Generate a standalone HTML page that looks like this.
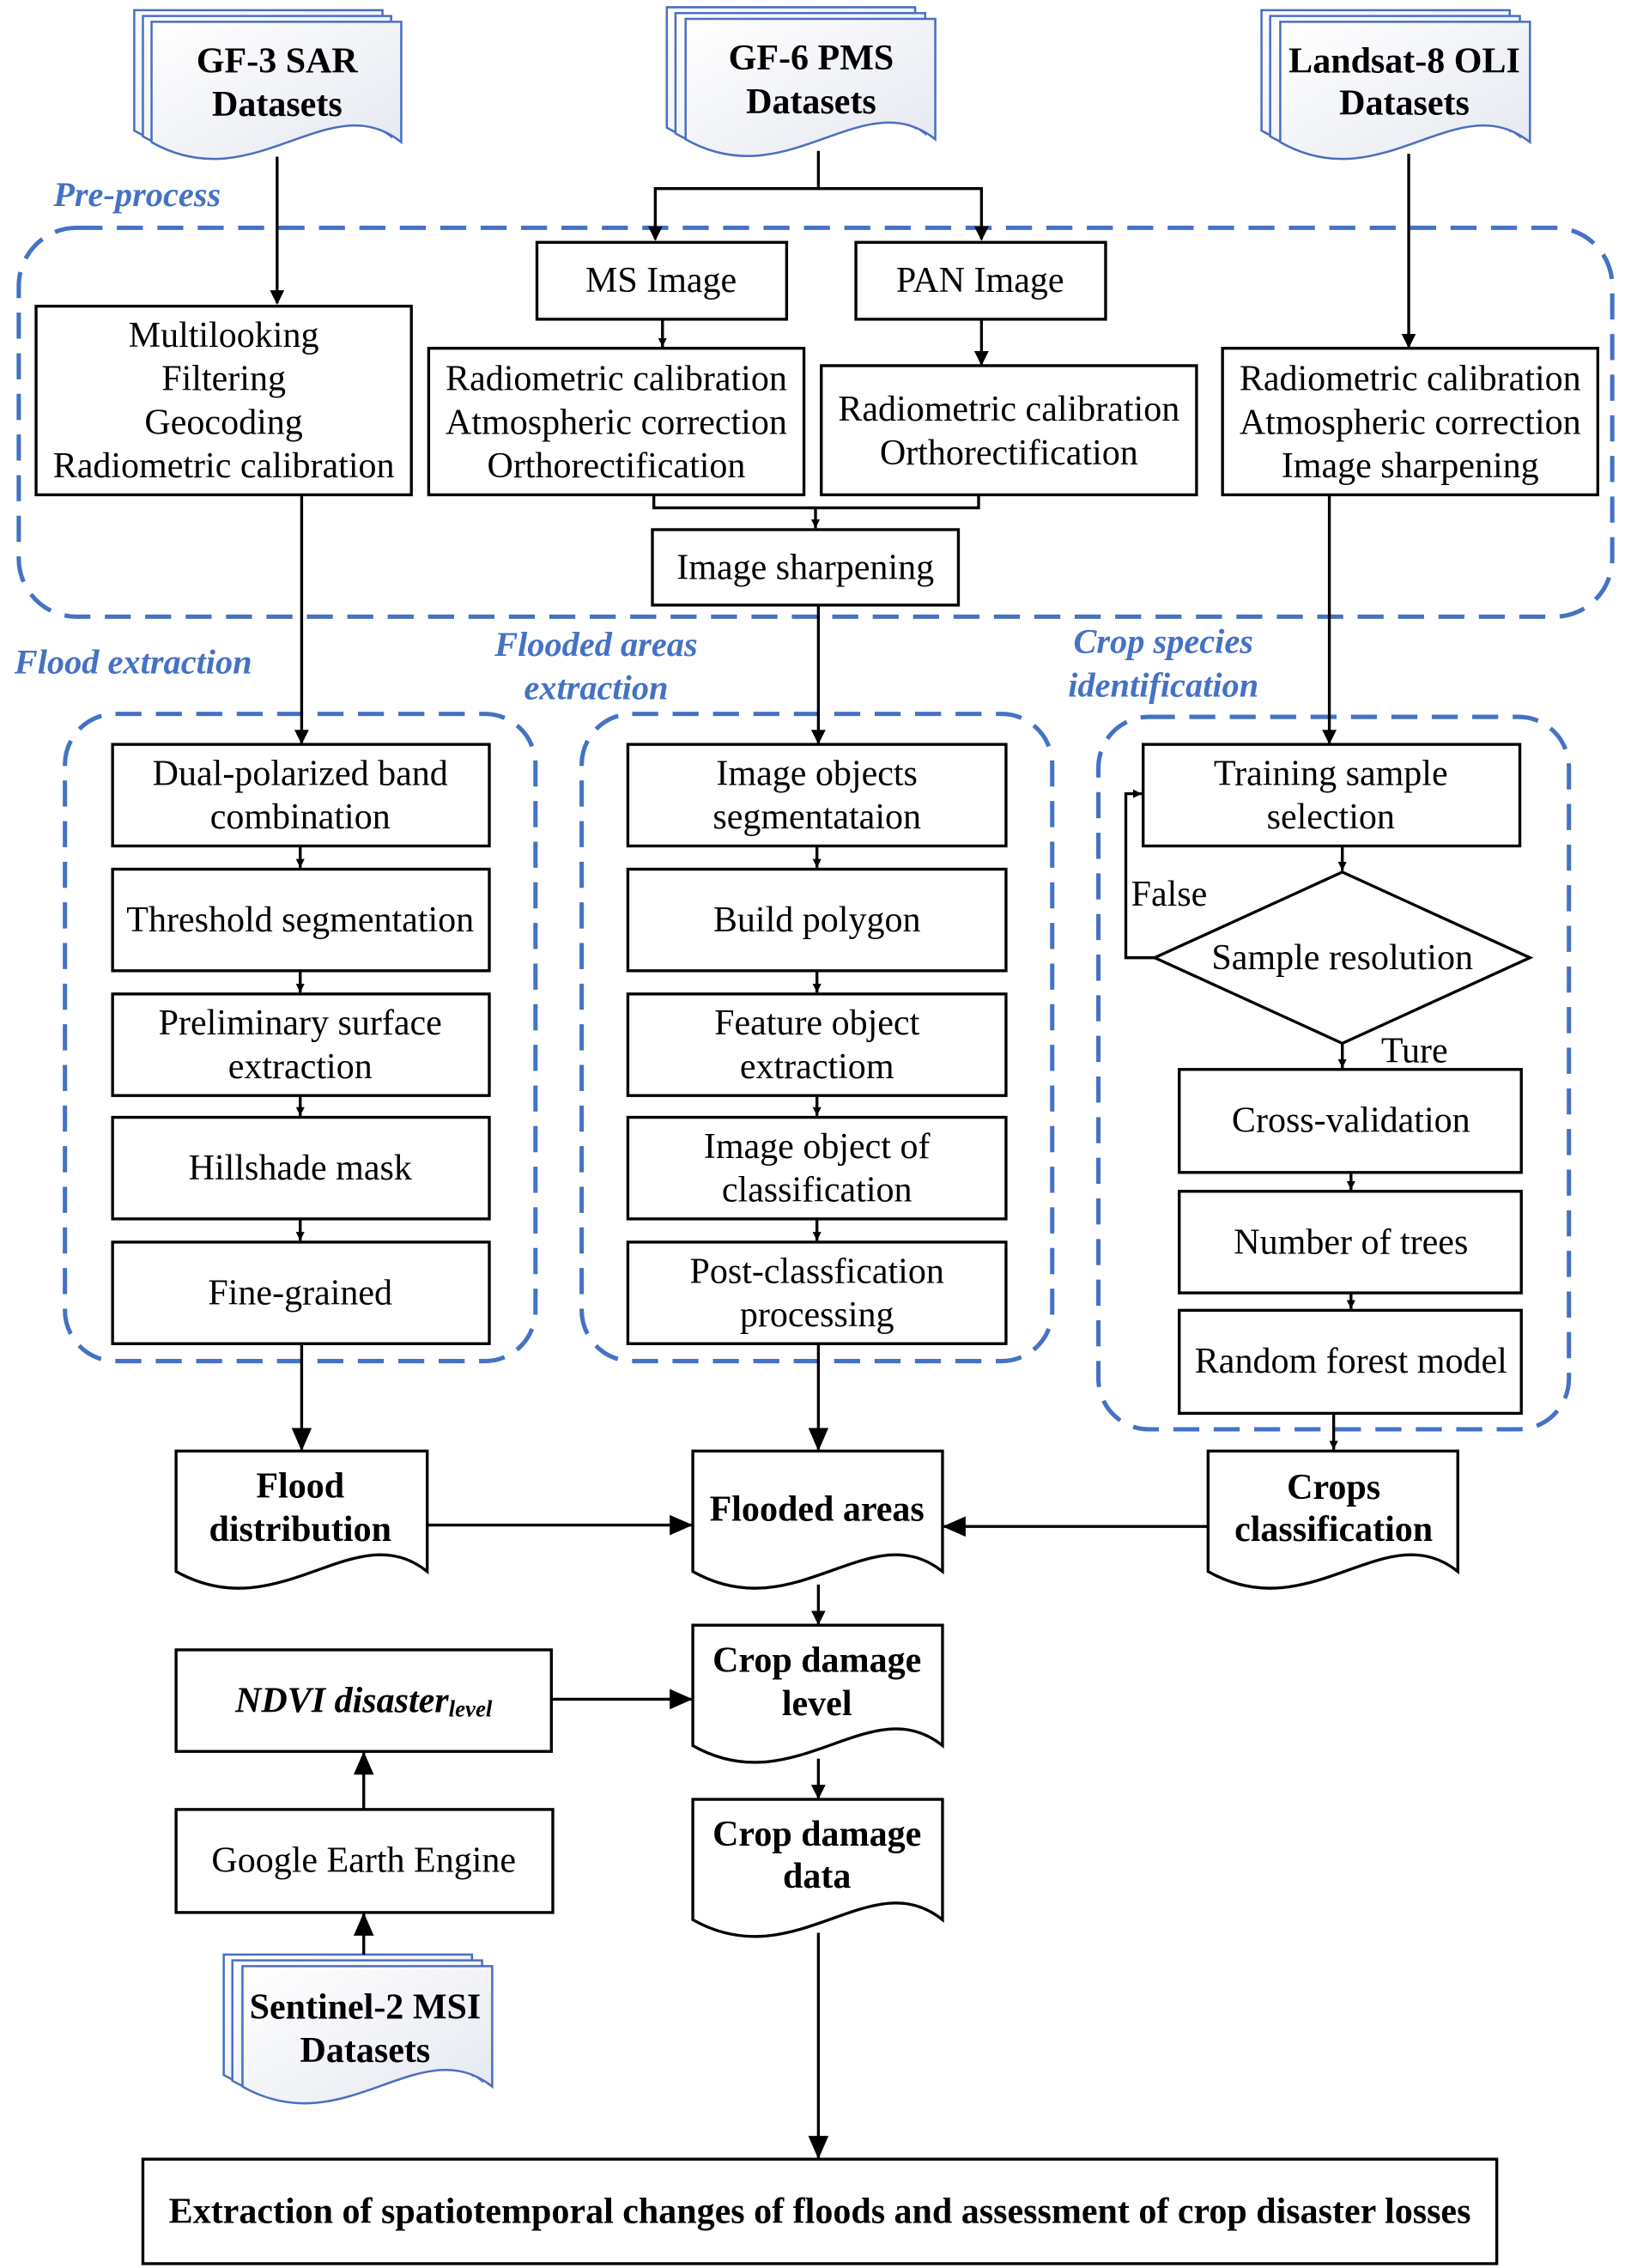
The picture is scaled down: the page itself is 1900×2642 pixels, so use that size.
<!DOCTYPE html>
<html><head><meta charset="utf-8"><style>html,body{margin:0;padding:0;background:#fff}svg{display:block}svg text{font-family:"Liberation Serif","Times New Roman",serif}</style></head>
<body>
<svg xmlns="http://www.w3.org/2000/svg" width="1900" height="2642" viewBox="0 0 1130 1563" preserveAspectRatio="none" style="font-family:'Liberation Serif',serif">
<defs>
<marker id="a" markerWidth="10" markerHeight="10" refX="9" refY="5" orient="auto" markerUnits="userSpaceOnUse"><path d="M0,0 L10,5 L0,10 z" fill="#000"/></marker>
<marker id="s" markerWidth="6" markerHeight="6" refX="6" refY="3" orient="auto" markerUnits="userSpaceOnUse"><path d="M0,0 L6,3 L0,6 z" fill="#000"/></marker>
<marker id="b" markerWidth="16" markerHeight="14" refX="15" refY="7" orient="auto" markerUnits="userSpaceOnUse"><path d="M0,0 L16,7 L0,14 z" fill="#000"/></marker>
<linearGradient id="g" x1="0" y1="0" x2="1" y2="1"><stop offset="0" stop-color="#fff"/><stop offset="1" stop-color="#e4e8f0"/></linearGradient>
</defs>

<g fill="url(#g)" stroke="#4a6fc0" stroke-width="1.5">
<path d="M93,7 H265 V90 C215,50 163,130 93,90 Z"/>
<path d="M99,11 H271 V94 C221,54 169,134 99,94 Z"/>
<path d="M105,15 H278 V98 C228,58 176,138 105,98 Z"/>
<path d="M462,5 H634 V88 C584,48 532,128 462,88 Z"/>
<path d="M468,9 H641 V92 C591,52 539,132 468,92 Z"/>
<path d="M475,13 H648 V96 C598,56 546,136 475,96 Z"/>
<path d="M874,7 H1046 V90 C996,50 944,130 874,90 Z"/>
<path d="M880,11 H1053 V94 C1003,54 951,134 880,94 Z"/>
<path d="M887,15 H1060 V98 C1010,58 958,138 887,98 Z"/>
<path d="M155,1347 H327 V1430 C277,1390 225,1470 155,1430 Z"/>
<path d="M161,1351 H334 V1434 C284,1394 232,1474 161,1434 Z"/>
<path d="M168,1355 H341 V1438 C291,1398 239,1478 168,1438 Z"/>
</g>
<g font-weight="bold" font-size="25" text-anchor="middle" fill="#000">
<text x="192" y="50">GF-3 SAR</text><text x="192" y="80">Datasets</text>
<text x="562" y="48">GF-6 PMS</text><text x="562" y="78">Datasets</text>
<text x="973" y="50">Landsat-8 OLI</text><text x="973" y="79">Datasets</text>
<text x="253" y="1391">Sentinel-2 MSI</text><text x="253" y="1421">Datasets</text>
</g>

<g fill="none" stroke="#4472C4" stroke-width="3" stroke-dasharray="18,10">
<rect x="13" y="157" width="1104" height="268" rx="40"/>
<rect x="45" y="492" width="326" height="446" rx="35"/>
<rect x="403" y="492" width="326" height="446" rx="35"/>
<rect x="761" y="494" width="326" height="491" rx="35"/>
</g>
<g fill="#4472C4" font-style="italic" font-weight="bold" font-size="24">
<text x="37" y="142">Pre-process</text>
<text x="10" y="464">Flood extraction</text>
<text x="413" y="452" text-anchor="middle">Flooded areas</text>
<text x="413" y="482" text-anchor="middle">extraction</text>
<text x="806" y="450" text-anchor="middle">Crop species</text>
<text x="806" y="480" text-anchor="middle">identification</text>
</g>

<g fill="#fff" stroke="#000" stroke-width="2">
<rect x="25" y="211" width="260" height="130"/>
<rect x="372" y="167" width="173" height="53"/>
<rect x="593" y="167" width="173" height="53"/>
<rect x="297" y="240" width="260" height="101"/>
<rect x="569" y="252" width="260" height="89"/>
<rect x="452" y="365" width="212" height="52"/>
<rect x="847" y="240" width="260" height="101"/>
<rect x="78" y="513" width="261" height="70"/><rect x="78" y="599" width="261" height="70"/><rect x="78" y="685" width="261" height="70"/><rect x="78" y="770" width="261" height="70"/><rect x="78" y="856" width="261" height="70"/>
<rect x="435" y="513" width="262" height="70"/><rect x="435" y="599" width="262" height="70"/><rect x="435" y="685" width="262" height="70"/><rect x="435" y="770" width="262" height="70"/><rect x="435" y="856" width="262" height="70"/>
<rect x="792" y="513" width="261" height="70"/>
<path d="M930,601 L1060,660 L930,719 L800,660 Z"/>
<rect x="817" y="737" width="237" height="71"/><rect x="817" y="821" width="237" height="70"/><rect x="817" y="903" width="237" height="71"/>
<rect x="122" y="1137" width="260" height="70"/>
<rect x="122" y="1247" width="261" height="71"/>
<rect x="99" y="1488" width="938" height="72"/>
<path d="M122,1000 H296 V1083 C246,1043 194,1123 122,1083 Z"/>
<path d="M480,1000 H653 V1083 C603,1043 551,1123 480,1083 Z"/>
<path d="M837,1000 H1010 V1083 C960,1043 908,1123 837,1083 Z"/>
<path d="M480,1120 H653 V1203 C603,1163 551,1243 480,1203 Z"/>
<path d="M480,1240 H653 V1323 C603,1283 551,1363 480,1323 Z"/>
</g>

<g stroke="#000" stroke-width="2" fill="none">
<line x1="192" y1="108" x2="192" y2="209" marker-end="url(#a)"/>
<polyline points="567,104 567,130 454,130 454,165" marker-end="url(#a)"/>
<polyline points="567,130 680,130 680,165" marker-end="url(#a)"/>
<line x1="459" y1="220" x2="459" y2="239" marker-end="url(#s)"/>
<line x1="680" y1="220" x2="680" y2="251" marker-end="url(#a)"/>
<line x1="976" y1="106" x2="976" y2="239" marker-end="url(#a)"/>
<polyline points="453,341 453,350 678,350 678,341"/>
<line x1="565" y1="350" x2="565" y2="364" marker-end="url(#s)"/>
<line x1="209" y1="341" x2="209" y2="512" marker-end="url(#a)"/>
<line x1="567" y1="417" x2="567" y2="512" marker-end="url(#a)"/>
<line x1="921" y1="341" x2="921" y2="512" marker-end="url(#a)"/>
<line x1="208" y1="583" x2="208" y2="598" marker-end="url(#s)"/><line x1="208" y1="669" x2="208" y2="684" marker-end="url(#s)"/><line x1="208" y1="755" x2="208" y2="769" marker-end="url(#s)"/><line x1="208" y1="840" x2="208" y2="855" marker-end="url(#s)"/>
<line x1="566" y1="583" x2="566" y2="598" marker-end="url(#s)"/><line x1="566" y1="669" x2="566" y2="684" marker-end="url(#s)"/><line x1="566" y1="755" x2="566" y2="769" marker-end="url(#s)"/><line x1="566" y1="840" x2="566" y2="855" marker-end="url(#s)"/>
<line x1="930" y1="583" x2="930" y2="600" marker-end="url(#s)"/>
<polyline points="800,660 780,660 780,547 791,547" marker-end="url(#s)"/>
<line x1="930" y1="719" x2="930" y2="736" marker-end="url(#s)"/>
<line x1="936" y1="808" x2="936" y2="820" marker-end="url(#s)"/><line x1="936" y1="891" x2="936" y2="902" marker-end="url(#s)"/>
<line x1="924" y1="974" x2="924" y2="999" marker-end="url(#s)"/>
<line x1="209" y1="926" x2="209" y2="999" marker-end="url(#b)"/>
<line x1="567" y1="926" x2="567" y2="999" marker-end="url(#b)"/>
<line x1="296" y1="1051" x2="479" y2="1051" marker-end="url(#b)"/>
<line x1="837" y1="1052" x2="654" y2="1052" marker-end="url(#b)"/>
<line x1="567" y1="1092" x2="567" y2="1119" marker-end="url(#a)"/>
<line x1="382" y1="1171" x2="479" y2="1171" marker-end="url(#b)"/>
<line x1="567" y1="1212" x2="567" y2="1239" marker-end="url(#a)"/>
<line x1="252" y1="1247" x2="252" y2="1208" marker-end="url(#b)"/>
<line x1="252" y1="1347" x2="252" y2="1319" marker-end="url(#b)"/>
<line x1="567" y1="1332" x2="567" y2="1487" marker-end="url(#b)"/>
</g>

<g font-size="25" text-anchor="middle" fill="#000">
<text x="155" y="239">Multilooking</text><text x="155" y="269">Filtering</text><text x="155" y="299">Geocoding</text><text x="155" y="329">Radiometric calibration</text>
<text x="458" y="201">MS Image</text><text x="679" y="201">PAN Image</text>
<text x="427" y="269">Radiometric calibration</text><text x="427" y="299">Atmospheric correction</text><text x="427" y="329">Orthorectification</text>
<text x="699" y="290">Radiometric calibration</text><text x="699" y="320">Orthorectification</text>
<text x="558" y="399">Image sharpening</text>
<text x="977" y="269">Radiometric calibration</text><text x="977" y="299">Atmospheric correction</text><text x="977" y="329">Image sharpening</text>
<text x="208" y="541">Dual-polarized band</text><text x="208" y="571">combination</text>
<text x="208" y="642">Threshold segmentation</text>
<text x="208" y="713">Preliminary surface</text><text x="208" y="743">extraction</text>
<text x="208" y="813">Hillshade mask</text>
<text x="208" y="899">Fine-grained</text>
<text x="566" y="541">Image objects</text><text x="566" y="571">segmentataion</text>
<text x="566" y="642">Build polygon</text>
<text x="566" y="713">Feature object</text><text x="566" y="743">extractiom</text>
<text x="566" y="798">Image object of</text><text x="566" y="828">classification</text>
<text x="566" y="884">Post-classfication</text><text x="566" y="914">processing</text>
<text x="922" y="541">Training sample</text><text x="922" y="571">selection</text>
<text x="930" y="668">Sample resolution</text>
<text x="936" y="780">Cross-validation</text>
<text x="936" y="864">Number of trees</text>
<text x="936" y="946">Random forest model</text>
<text x="252" y="1290">Google Earth Engine</text>
<text x="810" y="624">False</text>
<text x="980" y="732">Ture</text>
</g>
<g font-size="25" font-weight="bold" text-anchor="middle">
<text x="208" y="1032">Flood</text><text x="208" y="1062">distribution</text>
<text x="566" y="1048">Flooded areas</text>
<text x="924" y="1033">Crops</text><text x="924" y="1062">classification</text>
<text x="566" y="1152">Crop damage</text><text x="566" y="1182">level</text>
<text x="566" y="1272">Crop damage</text><text x="566" y="1301">data</text>
<text x="568" y="1532" font-size="25">Extraction of spatiotemporal changes of floods and assessment of crop disaster losses</text>
<text x="252" y="1180" font-style="italic">NDVI disaster<tspan font-size="16" dy="3">level</tspan></text>
</g>
</svg>
</body></html>
